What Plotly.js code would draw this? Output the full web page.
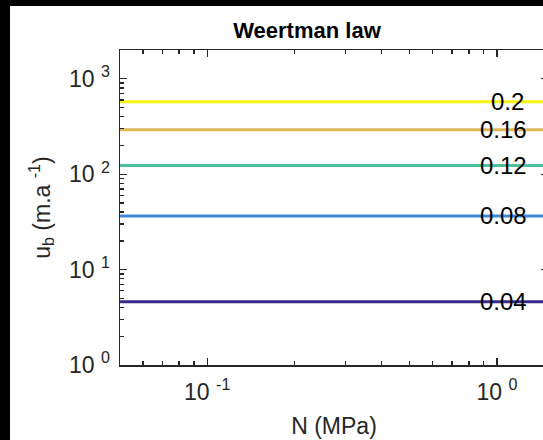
<!DOCTYPE html>
<html>
<head>
<meta charset="utf-8">
<script src="https://cdn.plot.ly/plotly-3.0.1.min.js"></script>
<style>
html, body { margin:0; padding:0; background:#000; overflow:hidden; width:543px; height:440px; }
#chart { position:absolute; left:10px; top:6px; width:550px; height:434px; background:#fff; }
</style>
</head>
<body>
<div id="chart"></div>
<script>
// Data
const seriesNames = ["0.04", "0.08", "0.12", "0.16", "0.2"];
const seriesValues = [4.6, 36.5, 123, 292, 575];   // u_b (m/a), constant in N
const seriesColors = ["#352a87", "#3d89de", "#4fbf9f", "#dcb657", "#f7f20f"];
const nValues = [0.05, 1.5];                       // N (MPa) endpoints
const labelN = [1.05, 1.05, 1.05, 1.05, 1.09];      // where inline labels sit
const xTickVals = [0.1, 1];
const xTickText = ["10 <sup>-1</sup>", "10 <sup>0</sup>"];
const yTickVals = [1, 10, 100, 1000];
const yTickText = ["10 <sup>0</sup>", "10 <sup>1</sup>", "10 <sup>2</sup>", "10 <sup>3</sup>"];
const xRange = [0.05, 1.5];
const yRange = [1, 2000];

const traces = seriesNames.map((name, i) => ({
  type: 'scatter', mode: 'lines', name: name,
  x: nValues, y: nValues.map(() => seriesValues[i]),
  line: { color: seriesColors[i], width: 3 },
  hoverinfo: 'skip', showlegend: false
}));

const annotations = seriesNames.map((name, i) => ({
  x: Math.log10(labelN[i]), y: Math.log10(seriesValues[i]),
  xref: 'x', yref: 'y', text: name, showarrow: false,
  font: { family: 'Liberation Sans, Arial, sans-serif', size: 24, color: '#000' },
  xanchor: 'center', yanchor: 'middle'
}));

const font = { family: 'Liberation Sans, Arial, sans-serif', size: 23, color: '#262626' };

const layout = {
  width: 550, height: 434,
  margin: { l: 110, r: 12, t: 44, b: 75 },
  paper_bgcolor: '#fff', plot_bgcolor: '#fff',
  font: font,
  title: { text: '<b>Weertman law</b>', font: { family: 'Liberation Sans, Arial, sans-serif', size: 22, color: '#000' },
           x: 0.54, xanchor: 'center', y: 0.945, yanchor: 'middle', yref: 'container' },
  xaxis: {
    type: 'log', range: xRange.map(Math.log10),
    tickvals: xTickVals, ticktext: xTickText,
    ticks: 'inside', ticklen: 7, tickwidth: 1.3, tickcolor: '#262626',
    minor: { ticks: 'inside', ticklen: 4, tickwidth: 1.3, tickcolor: '#262626', dtick: 'D1', showgrid: false },
    showline: true, linecolor: '#262626', linewidth: 1.5, mirror: 'ticks',
    showgrid: false, zeroline: false,
    tickfont: font, ticklabelstandoff: 6,
    title: { text: 'N (MPa)', font: font, standoff: 14 },
    automargin: false
  },
  yaxis: {
    type: 'log', range: yRange.map(Math.log10),
    tickvals: yTickVals, ticktext: yTickText,
    ticks: 'inside', ticklen: 7, tickwidth: 1.3, tickcolor: '#262626',
    minor: { ticks: 'inside', ticklen: 4, tickwidth: 1.3, tickcolor: '#262626', dtick: 'D1', showgrid: false },
    showline: true, linecolor: '#262626', linewidth: 1.5, mirror: 'ticks',
    showgrid: false, zeroline: false,
    tickfont: font, ticklabelstandoff: 4,
    title: { text: 'u<sub>b</sub> (m.a <sup>-1</sup>)', font: font, standoff: 12 },
    automargin: false
  },
  annotations: annotations
};

Plotly.newPlot('chart', traces, layout, { staticPlot: true, displayModeBar: false });
</script>
</body>
</html>
